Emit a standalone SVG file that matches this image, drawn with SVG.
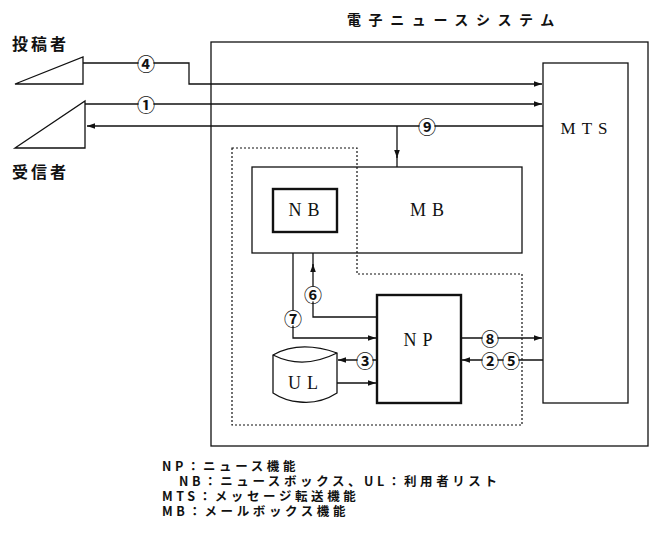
<svg xmlns="http://www.w3.org/2000/svg" width="650" height="543" viewBox="0 0 650 543">
<defs>
<style>
.ln{fill:none;stroke:#111;stroke-width:1.3}
.bx{fill:none;stroke:#111;stroke-width:1.3}
.thick{fill:#fff;stroke:#111;stroke-width:2.4}
.dot{fill:none;stroke:#111;stroke-width:1.2;stroke-dasharray:2 2}
.jp{font-family:"Noto Sans CJK JP","Noto Sans",sans-serif;fill:#111}
.lat{font-family:"Liberation Serif",serif;fill:#111}
.num{font-family:"Noto Sans CJK JP","DejaVu Sans",sans-serif;font-size:18px;font-weight:bold;fill:#111;text-anchor:middle;dominant-baseline:central}
.bg{fill:#fff}
</style>
<marker id="ah" viewBox="0 0 10 10" refX="10" refY="5" markerWidth="10" markerHeight="8" markerUnits="userSpaceOnUse" orient="auto">
<path d="M0,1.5 L10,5 L0,8.5 Z" fill="#111"/>
</marker>
</defs>
<rect width="650" height="543" fill="#fff"/>

<g id="title"><text class="jp" x="347" y="25" font-size="14" font-weight="bold" letter-spacing="7.6">電子ニュースシステム</text></g>

<g id="system"><rect class="bx" x="211" y="42" width="437" height="404"/></g>

<g id="sender">
<path class="ln" d="M15,84 L83,57 L83,84 Z"/>
<text class="jp" x="12" y="50" font-size="16" font-weight="bold" letter-spacing="3">投稿者</text>
</g>
<g id="receiver">
<path class="ln" d="M15,148 L85,101 L85,148 Z"/>
<text class="jp" x="12" y="178" font-size="16" font-weight="bold" letter-spacing="3">受信者</text>
</g>

<g id="MTS">
<rect class="bx" x="543" y="63" width="85" height="340"/>
<text class="lat" x="587" y="134" font-size="17" text-anchor="middle" letter-spacing="6">MTS</text>
</g>

<g id="userarea"><path class="dot" d="M232,148 H357 V274 H522 V425 H232 Z"/></g>

<g id="MB">
<rect class="bx" x="252" y="167" width="270" height="86"/>
<text class="lat" x="430" y="216" font-size="18" text-anchor="middle" letter-spacing="6">MB</text>
</g>
<g id="NB">
<rect class="thick" x="273" y="189" width="64" height="43"/>
<text class="lat" x="307" y="216" font-size="18" text-anchor="middle" letter-spacing="6">NB</text>
</g>

<g id="NP">
<rect class="thick" x="377" y="295" width="84" height="108"/>
<text class="lat" x="421" y="346" font-size="18" text-anchor="middle" letter-spacing="6">NP</text>
</g>

<g id="UL">
<path class="ln" d="M273,355 Q300,340 337,353 L337,393 Q320,404 300,402 Q285,401 273,393 Z" fill="#fff"/>
<path class="ln" d="M273,355 Q303,370 337,353"/>
<text class="lat" x="306" y="389" font-size="18" text-anchor="middle" letter-spacing="6">UL</text>
</g>

<g id="connectors">
<path class="ln" d="M83,63 H189 V84 H542" marker-end="url(#ah)"/>
<path class="ln" d="M85,104 H542" marker-end="url(#ah)"/>
<path class="ln" d="M543,126 H87" marker-end="url(#ah)"/>
<path class="ln" d="M397,126 V158" marker-end="url(#ah)"/>
<path class="ln" d="M397,156 V167"/>
<path class="ln" d="M377,317 H313 V264" marker-end="url(#ah)"/>
<path class="ln" d="M313,266 V253"/>
<path class="ln" d="M293,253 V338 H376" marker-end="url(#ah)"/>
<path class="ln" d="M461,338 H542" marker-end="url(#ah)"/>
<path class="ln" d="M543,360 H462" marker-end="url(#ah)"/>
<path class="ln" d="M377,360 H338" marker-end="url(#ah)"/>
<path class="ln" d="M337,383 H376" marker-end="url(#ah)"/>
<g id="labels">
<circle class="bg" cx="146" cy="63" r="7.5"/><text class="num" x="146" y="63">④</text>
<circle class="bg" cx="146" cy="104" r="7.5"/><text class="num" x="146" y="104">①</text>
<circle class="bg" cx="427" cy="126" r="7.5"/><text class="num" x="427" y="126">⑨</text>
<circle class="bg" cx="313" cy="294" r="7.5"/><text class="num" x="313" y="294">⑥</text>
<circle class="bg" cx="293" cy="318" r="7.5"/><text class="num" x="293" y="318">⑦</text>
<circle class="bg" cx="490" cy="338" r="7.5"/><text class="num" x="490" y="338">⑧</text>
<circle class="bg" cx="490" cy="360" r="7.5"/><text class="num" x="490" y="360">②</text>
<circle class="bg" cx="511" cy="360" r="7.5"/><text class="num" x="511" y="360">⑤</text>
<circle class="bg" cx="365" cy="360" r="7.5"/><text class="num" x="365" y="360">③</text>
</g>
</g>

<g id="legend" class="jp" font-size="12.5" font-weight="bold" letter-spacing="3.6">
<text x="162" y="471">NP：ニュース機能</text>
<text x="179" y="486">NB：ニュースボックス、UL：利用者リスト</text>
<text x="162" y="501">MTS：メッセージ転送機能</text>
<text x="162" y="516">MB：メールボックス機能</text>
</g>
</svg>
